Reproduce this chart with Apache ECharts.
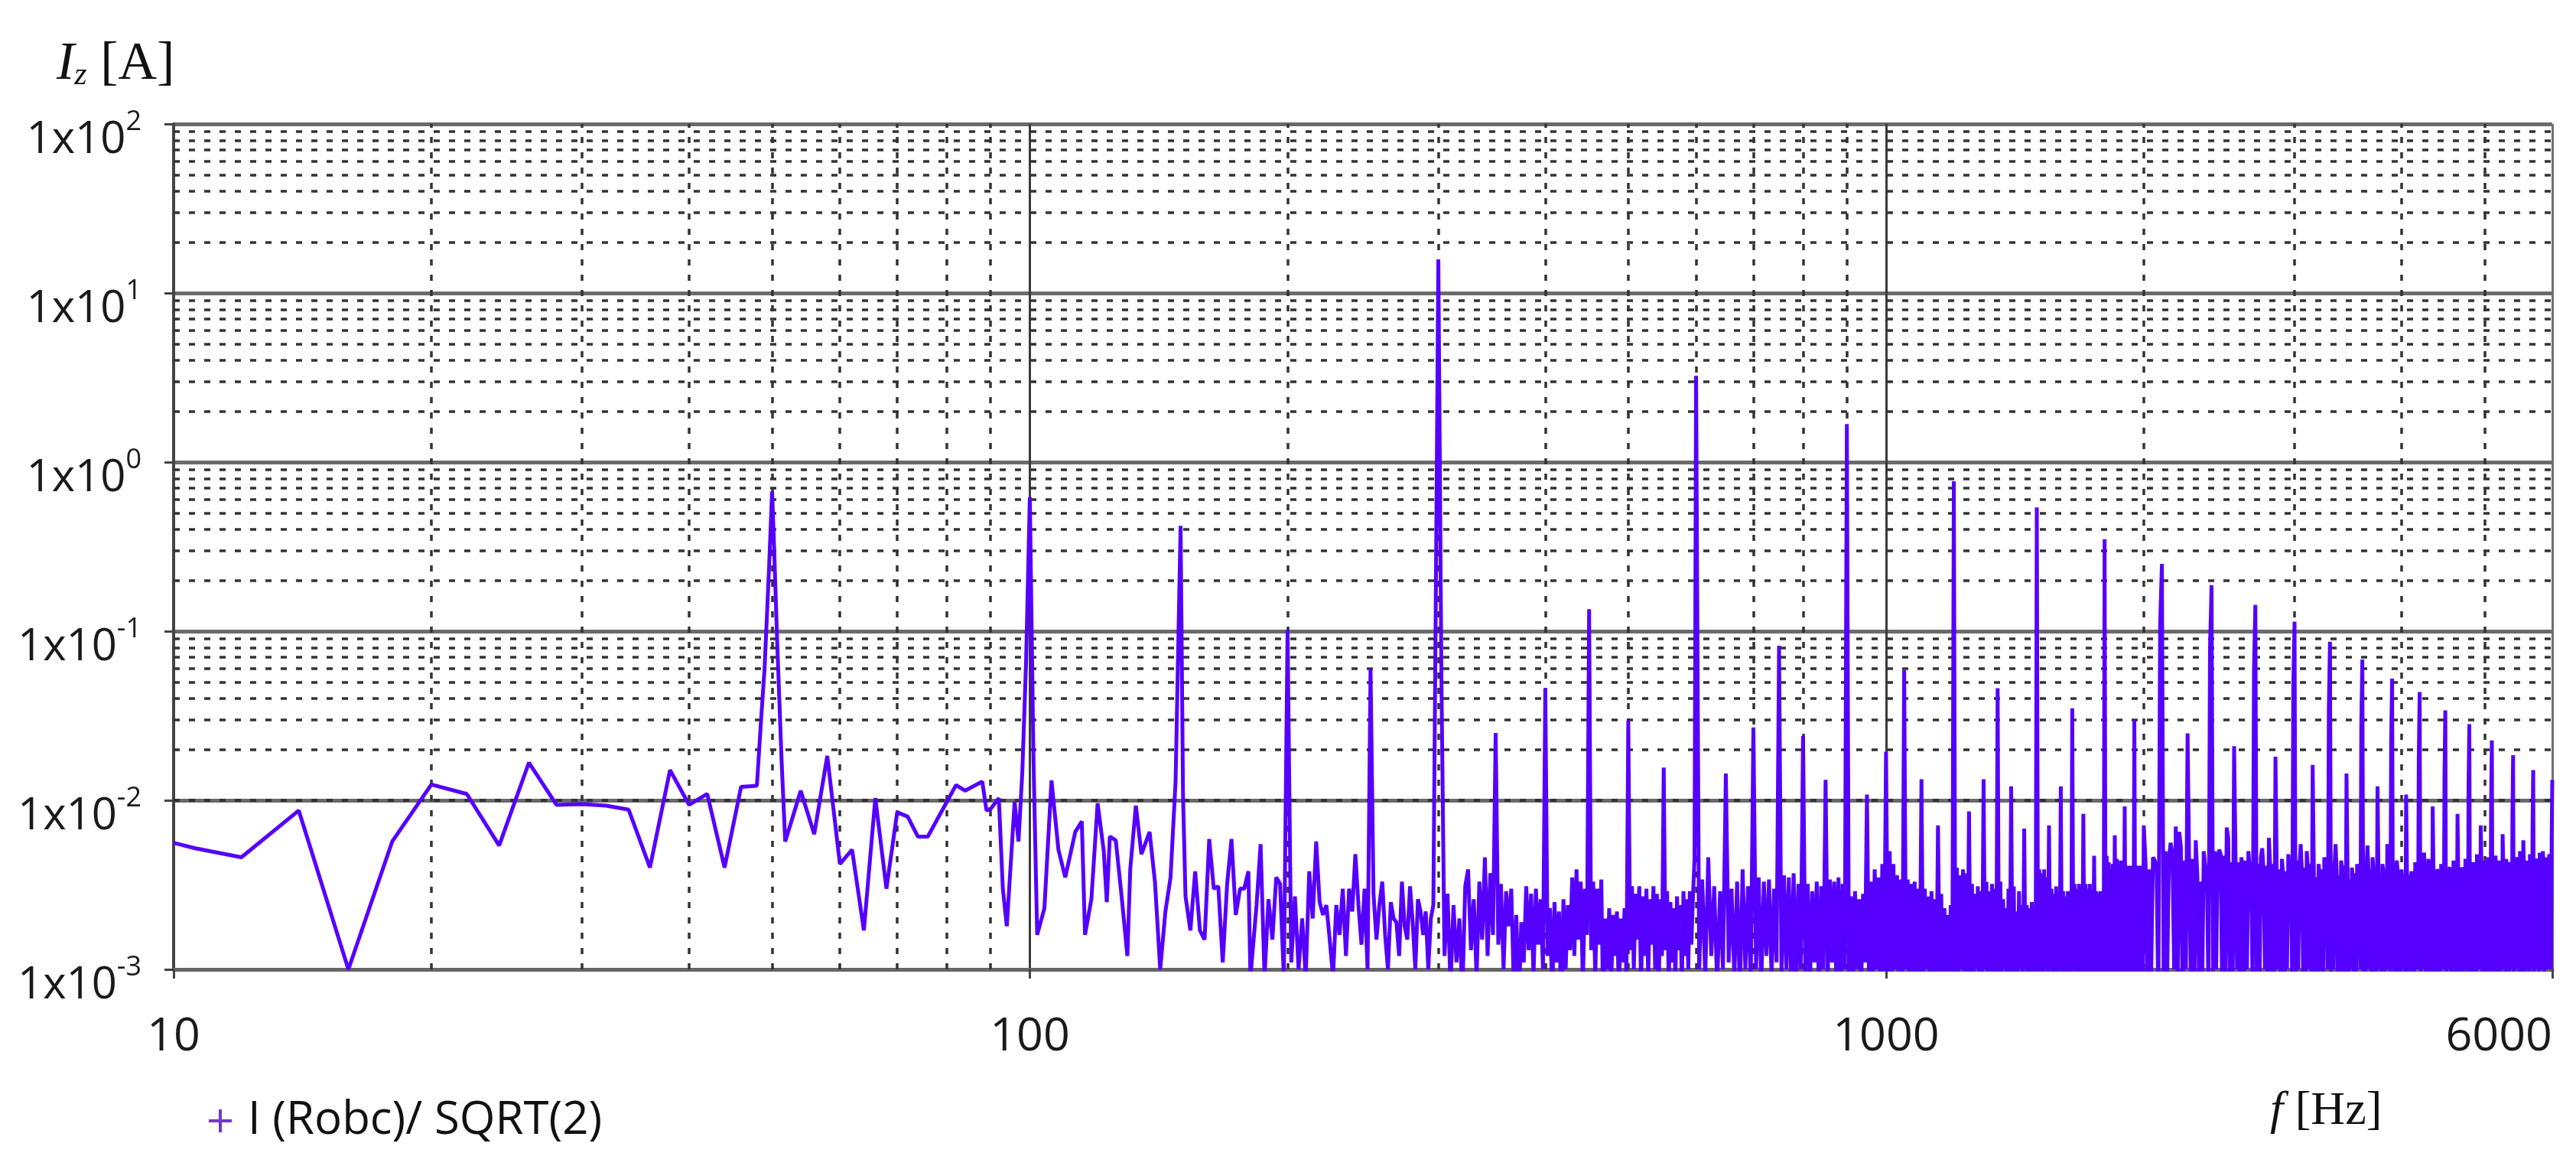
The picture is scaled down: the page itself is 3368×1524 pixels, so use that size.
<!DOCTYPE html>
<html><head><meta charset="utf-8">
<script src="https://cdn.jsdelivr.net/npm/echarts@6/dist/echarts.min.js"></script>
<style>html,body{margin:0;padding:0;background:#fff}#c{width:3368px;height:1524px}</style>
</head><body><div id="c"></div>
<script>
// ---------------- DATA (amplitudes in mA) ----------------
const seriesName = 'I (Robc)/ SQRT(2)';

// 10 - 300 Hz, individually read points
const lowFreqHz = [10,10.6,12,14,16,18,20,22,24,26,28,30,32,34,36,38,40,42,44,46,48,48.5,49,49.3,49.6,50,50.2,50.7,51.3,51.8,
54,56,58,60,62,64,66,68,70,72,74,76,80,82,84,88,89,90,92,93,94,96,97,98,99,100,101,102,104,106,108,110,113,115,116,118,120,122,123,124,126,128,130,131,133,135,138,140,142,144,146,148,150,151,152,
154,156,158,160,162,164,166,168,170,172,174,176,178,180,181,184,186,188,190,192,194,196,198,200,202,204,206,208,210,212,214,216,218,220,222,224,226,228,230,232,234,236,238,240,242,244,246,248,250,
252,254,256,258,260,262,264,266,268,270,272,274,276,278,280,282,284,286,288,290,292,294,296,298,300];
const lowAmp_mA = [5.6,5.2,4.6,8.7,1.0,5.7,12.4,10.9,5.4,16.7,9.4,9.5,9.3,8.8,4.0,15.1,9.4,10.9,4.0,12.0,12.2,28,60,120,240,670,390,84,17,5.7,
11.4,6.3,18.3,4.2,5.1,1.7,10.3,3.0,8.5,8.0,6.1,6.1,9.8,12.3,11.4,12.9,8.7,8.9,10.3,3.0,1.8,9.8,5.7,14.7,66,620,17,1.6,2.3,13.1,5.1,3.5,6.5,7.5,1.6,2.6,9.6,5.0,2.5,6.1,5.8,2.7,1.2,3.9,9.3,4.8,6.5,3.3,1.0,2.2,3.5,13,420,10.3,2.7,
1.7,3.8,1.7,1.5,5.9,3.0,3.1,1.1,3.2,5.9,2.1,3.0,3.0,3.8,0.9,2.4,5.5,0.9,2.6,1.5,3.5,3.2,0.9,102,1.1,2.7,1.0,2.0,0.9,3.8,2.0,5.7,2.5,2.1,2.4,1.5,0.9,2.4,1.6,3.0,1.2,3.0,2.2,4.8,2.4,1.4,3.0,1.0,60,
2.8,1.5,2.4,3.3,1.6,1.0,2.5,2.0,1.9,1.2,3.3,1.8,1.5,3.1,1.9,1.0,2.6,2.2,1.6,2.2,1.0,2.0,2.4,168,15800];

// 302.5 - 600 Hz, FFT bins every 2.5 Hz
const segB_startHz = 302.5, segB_stepHz = 2.5;
const segB_amp_mA = [
52,1.2,2.8,0.8,2.4,1.1,2.0,0.7,3.1,3.9,
1.3,2.6,0.9,3.3,1.5,4.6,1.2,3.7,1.6,25,
1.4,3.2,1.0,2.9,1.8,3.0,0.8,2.1,0.6,1.9,
1.1,3.1,1.3,2.8,0.9,3.0,1.4,2.6,1.0,46,
1.2,2.3,0.7,2.5,1.1,2.2,0.6,2.6,1.0,2.4,
1.3,3.5,1.2,3.9,1.5,3.3,0.8,3.0,1.6,135,
1.3,3.3,0.9,3.0,1.4,3.4,0.5,2.0,1.0,2.3,
0.8,2.1,1.2,2.2,0.7,2.0,1.1,2.3,0.9,29.6,
1.3,3.1,1.0,2.8,1.5,3.1,0.8,2.7,1.2,3.0,
0.9,2.6,1.4,3.1,1.0,2.8,0.7,2.6,1.2,15.6,
1.3,2.9,0.8,2.5,1.1,2.3,0.9,2.7,1.3,2.4,
0.8,2.9,1.2,2.6,1.0,2.9,1.4,2.7,4.5,3240];

// 605 - 1000 Hz, bins every 5 Hz
const segC_startHz = 605, segC_stepHz = 5;
const segC_amp_mA = [
1.0,3.4,0.9,4.6,1.2,3.1,0.8,2.9,1.0,14.4,
1.1,3.0,0.9,3.3,0.7,3.9,1.0,3.1,0.8,27,
1.0,3.5,0.8,3.3,1.2,3.4,0.9,3.0,1.1,82,
0.9,3.6,1.0,3.5,0.8,3.7,0.7,3.2,1.0,24,
0.9,3.2,0.8,2.9,1.1,3.3,0.7,3.1,1.0,13.2,
0.9,3.4,1.1,3.3,0.8,3.5,0.7,3.2,1.0,1680,
0.9,2.7,0.8,2.9,1.0,2.6,0.7,2.8,1.1,10.8,
0.9,3.3,0.8,3.9,1.0,3.5,0.7,4.2,0.9,19.4];

// 1005 - 2000 Hz, bins every 5 Hz
const segD_startHz = 1005, segD_stepHz = 5;
const segD_amp_mA = [
0.9,5.0,0.7,4.2,1.0,3.6,0.6,3.4,0.8,59,
1.0,3.4,0.6,3.2,0.9,3.3,0.5,3.0,0.8,13.3,
0.7,3.0,1.0,2.7,0.6,2.9,0.9,2.6,0.7,7.1,
0.9,2.8,0.6,2.3,0.8,2.1,0.7,2.4,0.7,770,
0.7,4.0,0.8,3.6,1.0,3.9,0.7,3.7,0.8,8.6,
0.9,3.2,0.6,2.8,1.0,3.1,0.7,2.9,0.8,13.3,
1.0,3.3,0.7,2.9,0.9,3.2,0.6,3.0,0.8,46,
0.7,3.3,0.9,2.6,1.0,2.3,0.6,3.0,0.8,12.1,
0.9,3.1,0.6,2.2,0.8,2.9,1.0,2.4,0.7,6.8,
1.0,2.4,0.6,2.3,0.8,2.5,0.7,2.3,0.7,540,
0.8,3.9,0.9,3.7,0.7,3.9,1.0,3.5,0.8,7.1,
1.0,3.0,0.7,2.8,0.9,3.1,0.7,2.9,1.0,12.1,
0.8,2.9,0.6,2.7,1.0,2.9,0.8,2.8,0.7,35,
1.0,3.2,0.8,3.0,0.6,3.2,0.9,3.1,0.7,8.3,
0.9,3.2,0.7,3.0,1.0,3.2,0.8,2.9,0.7,4.7,
0.9,2.9,0.7,2.8,1.0,2.9,0.8,2.6,0.6,350,
0.9,4.7,0.8,4.3,1.0,3.9,0.8,4.2,0.8,6.2,
1.0,4.5,0.7,4.2,1.0,4.4,0.9,4.0,0.8,9.2,
1.0,4.1,0.8,3.9,1.0,4.1,0.7,4.0,0.9,29.6,
0.9,4.1,1.0,3.8,0.8,4.1,1.0,3.9,0.8,7.1];

// 2010 - 6000 Hz, bins every 10 Hz
const segE_startHz = 2010, segE_stepHz = 10;
const segE_amp_mA = [
4.2,0.8,3.9,0.9,4.6, 4.4,4.0,0.6,110,250, 0.7,5.0,0.9,4.6,5.6, 4.8,1.0,7.0,0.8,6.5,
5.3,0.6,4.4,1.0,24.9, 3.9,0.8,4.5,0.5,5.8, 3.6,0.9,3.3,0.7,5.0, 4.0,3.8,0.7,80,187,
0.8,5.0,1.0,4.6,5.1, 4.8,0.6,4.7,0.9,6.9, 6.0,0.8,4.3,0.7,20.9, 4.5,1.0,4.3,0.6,4.6,
4.0,0.8,4.4,1.0,5.0, 3.8,3.6,0.7,60,143, 0.9,4.2,0.7,4.6,5.2, 3.9,1.0,4.1,0.8,6.0,
4.0,0.8,4.2,0.6,18.1, 3.7,1.0,3.9,0.8,4.5, 3.6,0.7,3.8,1.0,4.8, 3.9,4.0,0.9,48,114,
0.7,4.4,1.0,4.1,5.5, 3.8,0.9,4.0,0.7,5.0, 3.9,1.0,4.2,0.8,16.2, 3.7,0.7,3.5,0.9,4.2,
3.6,0.8,3.9,0.6,4.6, 4.0,3.8,1.0,36,86.7, 0.8,4.3,1.0,4.0,5.5, 3.8,0.6,3.6,0.9,4.4,
3.9,0.9,4.1,0.7,14.4, 3.6,0.8,3.4,1.0,4.0, 3.5,0.6,3.7,0.9,4.2, 3.8,3.9,1.0,28,68,
0.9,4.1,0.7,3.8,5.4, 3.7,1.0,3.9,0.8,4.6, 3.8,0.6,4.0,0.9,12.1, 3.6,1.0,3.5,0.8,4.2,
3.8,0.7,3.7,1.0,5.5, 3.9,4.0,0.9,22,52.4, 1.0,3.6,0.6,3.8,4.4, 3.7,0.8,3.5,0.9,3.9,
3.9,1.0,3.7,0.7,10.8, 3.5,0.9,3.6,1.0,3.4, 3.8,0.6,3.7,0.9,4.3, 3.9,3.8,1.0,18,43.7,
0.8,4.0,1.0,3.8,4.9, 3.7,0.9,3.9,0.7,4.5, 3.8,1.0,3.6,0.9,9.2, 3.5,0.8,3.7,1.0,3.9,
3.8,0.9,3.6,0.6,4.2, 3.9,3.8,1.0,14,34, 0.8,3.7,1.0,3.9,3.9, 4.0,0.9,3.8,0.7,4.4,
3.7,1.0,3.9,0.9,8.3, 3.6,0.8,3.8,1.0,4.0, 3.9,0.9,3.7,1.0,4.5, 3.8,4.0,0.7,12,28.2,
1.0,3.9,0.9,3.7,4.3, 4.0,0.9,3.8,0.8,4.8, 3.7,1.0,3.9,1.0,7.1, 3.9,0.9,4.0,0.7,4.4,
3.8,1.0,3.9,0.9,4.6, 4.0,3.8,0.8,10,22.6, 1.0,3.9,0.9,4.1,4.7, 3.8,0.9,3.9,1.0,4.4,
4.0,0.8,3.7,1.0,6.3, 3.9,1.0,4.1,0.9,4.5, 4.0,0.9,3.9,0.7,4.3, 4.2,4.0,1.0,8,18.5,
0.9,3.9,1.0,4.1,4.6, 4.0,1.0,3.9,0.8,5.0, 4.1,1.0,4.0,0.9,5.8, 3.9,0.9,4.2,1.0,4.4,
4.0,1.0,4.1,0.8,4.8, 4.3,4.1,1.0,7,15.1, 0.9,4.0,1.0,4.2,4.5, 4.4,1.0,4.1,0.9,4.9,
4.2,1.0,4.3,1.0,5.0, 4.1,0.9,4.4,1.0,4.6, 4.3,1.0,4.2,1.0,4.8, 4.5,4.3,1.0,6,13.2];

// axes
const xTickValues = [10, 100, 1000, 6000];
const xTickLabels = ['10', '100', '1000', '6000'];
const yTickValues = [0.001, 0.01, 0.1, 1, 10, 100];
const yTickExp = ['-3', '-2', '-1', '0', '1', '2'];
const xMinorGrid = [20,30,40,50,60,70,80,90,200,300,400,500,600,700,800,900,2000,3000,4000,5000];
const yMinorGrid = [0.002,0.003,0.004,0.005,0.006,0.007,0.008,0.009,
  0.02,0.03,0.04,0.05,0.06,0.07,0.08,0.09,
  0.2,0.3,0.4,0.5,0.6,0.7,0.8,0.9,
  2,3,4,5,6,7,8,9,
  20,30,40,50,60,70,80,90];

// ---------------- BUILD ----------------
const points = [];
lowFreqHz.forEach((f, i) => points.push([f, lowAmp_mA[i] / 1000]));
function addSeg(start, step, arr) {
  arr.forEach((v, i) => points.push([+(start + step * i).toFixed(3), v / 1000]));
}
addSeg(segB_startHz, segB_stepHz, segB_amp_mA);
addSeg(segC_startHz, segC_stepHz, segC_amp_mA);
addSeg(segD_startHz, segD_stepHz, segD_amp_mA);
addSeg(segE_startHz, segE_stepHz, segE_amp_mA);

function nearIdx(arr, v) {
  let best = 0, bd = Infinity;
  arr.forEach((t, i) => { const d = Math.abs(Math.log10(t) - Math.log10(v)); if (d < bd) { bd = d; best = i; } });
  return best;
}

const LABEL_FONT = 'Open Sans';
const SERIF = 'Liberation Serif';
const chart = echarts.init(document.getElementById('c'), null, {renderer: 'canvas'});
chart.setOption({
  animation: false,
  backgroundColor: '#ffffff',
  grid: {left: 227, right: 31, top: 162, bottom: 257, containLabel: false, outerBoundsMode: 'none'},
  title: [
    {
      text: '{i|I}{z|z}{n| [A]}',
      left: 74, top: 40, padding: 0,
      textStyle: {fontWeight: 'normal', rich: {
        i: {fontFamily: SERIF, fontStyle: 'italic', fontWeight: 'normal', fontSize: 70, color: '#111', lineHeight: 80, verticalAlign: 'bottom'},
        z: {fontFamily: SERIF, fontStyle: 'italic', fontWeight: 'normal', fontSize: 42, color: '#111', lineHeight: 64, verticalAlign: 'bottom'},
        n: {fontFamily: SERIF, fontWeight: 'normal', fontSize: 70, color: '#111', lineHeight: 80, verticalAlign: 'bottom'}
      }}
    },
    {
      text: '{f|f}{n| [Hz]}',
      left: 2968, top: 1414, padding: 0,
      textStyle: {fontWeight: 'normal', rich: {
        f: {fontFamily: SERIF, fontStyle: 'italic', fontWeight: 'normal', fontSize: 62, color: '#111', lineHeight: 70, verticalAlign: 'bottom'},
        n: {fontFamily: SERIF, fontWeight: 'normal', fontSize: 62, color: '#111', lineHeight: 70, verticalAlign: 'bottom'}
      }}
    }
  ],
  legend: {
    show: true, selectedMode: false,
    left: 268, top: 1430,
    itemWidth: 30, itemHeight: 30,
    data: [{name: seriesName, icon: 'path://M13,0h4v13h13v4h-13v13h-4v-13h-13v-4h13z'}],
    itemStyle: {color: '#7436cc'},
    textStyle: {fontFamily: LABEL_FONT, fontSize: 60, color: '#111', padding: [0, 0, 0, 16]}
  },
  xAxis: {
    type: 'log', logBase: 10, min: 10, max: 6000,
    axisLine: {show: true, onZero: false, lineStyle: {color: '#666', width: 5}},
    axisTick: {show: true, length: 12, lineStyle: {color: '#444', width: 3}},
    axisLabel: {
      show: true, margin: 58, fontFamily: LABEL_FONT, fontSize: 61, color: '#1a1a1a',
      showMinLabel: true, showMaxLabel: true, alignMaxLabel: 'right',
      formatter: v => xTickLabels[nearIdx(xTickValues, v)]
    },
    splitLine: {show: true, lineStyle: {color: ['#3a3a3a', '#3a3a3a', '#3a3a3a', '#707070'], width: 3}},
    minorTick: {show: false}, minorSplitLine: {show: false}
  },
  yAxis: {
    type: 'log', logBase: 10, min: 0.001, max: 100,
    axisLine: {show: true, onZero: false, lineStyle: {color: '#444', width: 4}},
    axisTick: {show: true, length: 12, lineStyle: {color: '#444', width: 3}},
    axisLabel: {
      show: true, margin: 42, padding: [30, 0, 0, 0],
      formatter: v => '{b|1x10}{s|' + yTickExp[nearIdx(yTickValues, v)] + '}',
      rich: {
        b: {fontFamily: LABEL_FONT, fontSize: 58, color: '#1a1a1a', lineHeight: 70, verticalAlign: 'bottom'},
        s: {fontFamily: LABEL_FONT, fontSize: 36, color: '#1a1a1a', lineHeight: 40, verticalAlign: 'top'}
      }
    },
    splitLine: {show: true, lineStyle: {color: '#6a6a6a', width: 5}},
    minorTick: {show: false}, minorSplitLine: {show: false}
  },
  series: [
    {
      type: 'line', name: '__grid', data: [], silent: true, z: 1,
      markLine: {
        silent: true, symbol: 'none', z: 1, animation: false,
        label: {show: false},
        lineStyle: {type: [8, 12], color: '#333', width: 3.5},
        emphasis: {disabled: true},
        data: [...yMinorGrid.map(v => ({yAxis: v})), ...xMinorGrid.map(v => ({xAxis: v}))]
      }
    },
    {
      type: 'line', name: seriesName, data: points, z: 3,
      showSymbol: false, symbol: 'none', clip: true, silent: true,
      lineStyle: {color: '#5500ff', width: 5, join: 'bevel'},
      itemStyle: {color: '#5500ff'}
    }
  ]
});
</script>
</body></html>
